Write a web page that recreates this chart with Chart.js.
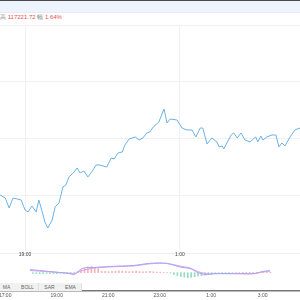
<!DOCTYPE html>
<html><head><meta charset="utf-8">
<script src="https://cdn.jsdelivr.net/npm/chart.js@4"></script>
<style>
html,body{margin:0;padding:0;width:300px;height:300px;overflow:hidden;background:#fff;font-family:"Liberation Sans",Arial,sans-serif}
#topline{position:absolute;left:0;top:0;width:300px;height:1px;background:#4a4a4a}
#band{position:absolute;left:0;top:1px;width:300px;height:11px;background:#eef4fd;border-bottom:1px solid #e6ecf5}
#info{position:absolute;left:0;top:14px;font-size:6px;line-height:7px;color:#888;white-space:nowrap}
#info .v{color:#e8504f}
.cv{position:absolute;left:0}
.btn{position:absolute;top:283px;width:21px;height:8px;background:#f1f1f1;border-right:1px solid #e0e0e0;font-size:5px;line-height:8px;text-align:center;color:#666;z-index:5}
</style></head>
<body>
<div id="topline"></div>
<div id="band"></div>
<div id="info">高 <span class="v">117221.72</span> 幅 <span class="v">1.64%</span></div>
<canvas id="macd" class="cv" style="top:253px;z-index:1" width="300" height="31"></canvas>
<canvas id="main" class="cv" style="top:25px;z-index:2" width="300" height="235"></canvas>
<canvas id="nav" class="cv" style="top:284px;z-index:3" width="300" height="16"></canvas>
<div class="btn" style="left:-4px">MA</div>
<div class="btn" style="left:17px">BOLL</div>
<div class="btn" style="left:39px">SAR</div>
<div class="btn" style="left:60px">EMA</div>
<script>
// ---- data ----
const priceTimes = ["18:02","18:14","18:23","18:32","18:41","18:51","19:00","19:07","19:16","19:26","19:32","19:40","19:46","19:53","20:03","20:10","20:19","20:28","20:35","20:42","20:52","21:01","21:08","21:17","21:26","21:35","21:45","21:54","22:10","22:20","22:27","22:36","22:46","22:52","23:02","23:16","23:25","23:34","23:43","23:50","23:58","00:11","00:23","00:30","00:37","00:53","01:05","01:16","01:28","01:37","01:47","01:53","02:03","02:14","02:26","02:31","02:38","02:42","02:49","02:59","03:05","03:13","03:22","03:31","03:43","03:56","04:01","04:08","04:13","04:22","04:34","04:43","04:50","04:57","05:04","05:16","05:27","05:39"];
const prices = [116009,115982,115895,115982,115974,115965,115877,115860,115912,115860,115965,115860,115772,115719,115789,115904,115939,116079,116096,116167,116202,116246,116202,116219,116167,116211,116272,116272,116254,116333,116325,116377,116386,116447,116500,116518,116491,116509,116553,116561,116605,116649,116763,116640,116675,116667,116596,116579,116579,116518,116596,116596,116456,116509,116474,116430,116439,116412,116465,116535,116553,116509,116553,116491,116474,116518,116474,116526,116491,116518,116535,116535,116430,116465,116439,116518,116579,116596];
const macdTimes = ["18:02","19:58","20:10","20:33","21:08","21:54","23:04","23:50","00:37","01:23","01:47","02:10","02:33","02:56","04:06","04:52","05:16","05:39"];
const dif = [30,-10,-20,40,50,60,70,90,90,50,40,0,-20,-10,-10,-10,10,20];
const dea = [20,-5,-10,20,45,55,65,85,90,60,45,10,-10,-10,-10,-10,5,15];
const histTimes = ["18:10","18:20","18:30","18:40","18:50","19:00","19:10","19:20","19:30","19:40","19:50","20:00","20:10","20:20","20:30","20:40","20:50","21:00","21:10","21:20","21:30","21:40","21:50","22:00","22:10","22:20","22:30","22:40","22:50","23:00","23:10","23:20","23:30","23:40","23:50","00:00","00:10","00:20","00:30","00:40","00:50","01:00","01:10","01:20","01:30","01:40","01:50","02:00","02:10","02:20","02:30","02:40","02:50","03:00","03:10","03:20","03:30","03:40","03:50","04:00","04:10","04:20","04:30","04:40","04:50","05:00","05:10","05:20","05:30","05:40"];
const hist = [-8,-10,-12,-10,-8,-10,-12,-10,-8,-6,-4,-4,-2,10,30,45,55,60,50,40,15,12,10,12,15,18,15,12,10,12,15,10,8,10,12,8,6,4,2,0,-4,-20,-30,-40,-45,-50,-45,-40,-35,-30,-25,-20,-15,-5,-4,-3,-2,-2,-1,0,1,2,2,3,2,1,2,3,4,5];
const mainTicks = ["19:00","01:00"];
const priceGrid = [116000,116500,117000,117500];
const navTicks = ["17:00","19:00","21:00","23:00","01:00","03:00"];

// ---- helpers ----
function hr(t){const [H,M]=t.split(':').map(Number);return (H<12?H+24:H)+M/60;}
function lbl(v){const H=Math.floor(v)%24;const M=Math.round((v-Math.floor(v))*60);return H+':'+String(M).padStart(2,'0');}
const pts=(ts,vs)=>ts.map((t,i)=>({x:hr(t),y:vs[i]}));
const FONT={family:'"Liberation Sans", Arial, sans-serif',size:5};
const XMIN=18.03, XMAX=29.65;

new Chart(document.getElementById('main'),{
  type:'line',
  data:{datasets:[{data:pts(priceTimes,prices),borderColor:'#6db2e6',borderWidth:1,pointRadius:0,tension:0,fill:false}]},
  options:{responsive:false,animation:false,layout:{padding:0},
    plugins:{legend:{display:false},tooltip:{enabled:false}},
    scales:{
      x:{type:'linear',min:XMIN,max:XMAX,
        afterBuildTicks:s=>{s.ticks=mainTicks.map(t=>({value:hr(t)}));},
        afterFit:s=>{s.height=10;s.paddingLeft=0;s.paddingRight=0;},
        grid:{color:'#f0f0f0',drawTicks:false},border:{display:false},
        ticks:{font:FONT,color:'#444',padding:2,maxRotation:0,callback:v=>lbl(v)}},
      y:{position:'right',min:115526,max:117500,
        afterBuildTicks:s=>{s.ticks=priceGrid.map(v=>({value:v}));},
        afterFit:s=>{s.width=0;},
        grid:{color:'#f1f1f1',drawTicks:false},border:{display:false},
        ticks:{display:false}}
    }}
});

new Chart(document.getElementById('macd'),{
  data:{datasets:[
    {type:'bar',data:pts(histTimes,hist),backgroundColor:hist.map(v=>v>=0?'#f7b3b3':'#96dcc2'),barThickness:1,order:3},
    {type:'line',data:pts(macdTimes,dea),borderColor:'#eb9ae9',borderWidth:1,pointRadius:0,tension:0.3,order:2},
    {type:'line',data:pts(macdTimes,dif),borderColor:'#a0a9f3',borderWidth:1,pointRadius:0,tension:0.3,order:1}
  ]},
  options:{responsive:false,animation:false,layout:{padding:0},
    plugins:{legend:{display:false},tooltip:{enabled:false}},
    scales:{
      x:{type:'linear',min:XMIN,max:XMAX,display:false},
      y:{position:'right',min:-110,max:190,
        afterBuildTicks:s=>{s.ticks=[{value:-110},{value:190}];},
        afterFit:s=>{s.width=0;},
        grid:{color:'#eeeeee',drawTicks:false},border:{display:false},ticks:{display:false}}
    }}
});

new Chart(document.getElementById('nav'),{
  type:'line',
  data:{datasets:[{data:[],borderColor:'#ccc'}]},
  options:{responsive:false,animation:false,layout:{padding:0},
    plugins:{legend:{display:false},tooltip:{enabled:false}},
    scales:{
      x:{type:'linear',min:16.80,max:28.45,
        afterBuildTicks:s=>{s.ticks=navTicks.map(t=>({value:hr(t)}));},
        afterFit:s=>{s.height=9;s.paddingLeft=0;s.paddingRight=0;},
        grid:{display:false,drawTicks:false},border:{display:true,color:'#777',width:1.5},
        ticks:{font:FONT,color:'#555',padding:2,maxRotation:0,callback:v=>lbl(v)}},
      y:{display:false,min:0,max:1}
    }}
});
</script>
</body></html>
